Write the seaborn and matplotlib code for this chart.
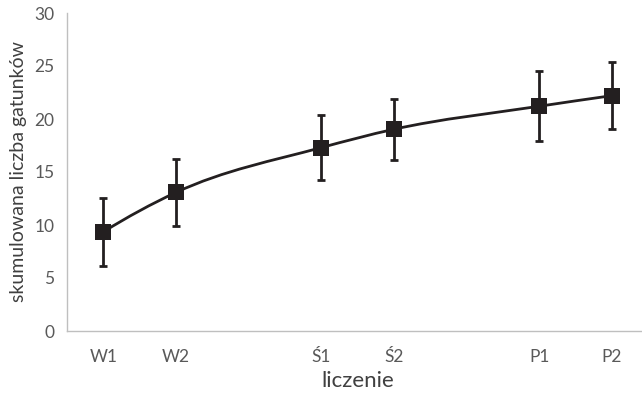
import numpy as np
import seaborn as sns
import matplotlib.pyplot as plt
import pandas as pd
from matplotlib.path import Path
from matplotlib.patches import PathPatch

# dane z wykresu
labels = ['W1', 'W2', '', 'Ś1', 'Ś2', '', 'P1', 'P2']
pos = [0, 1, 3, 4, 6, 7]
means = [9.35, 13.07, 17.3, 19.03, 21.2, 22.2]
errs = [3.2, 3.2, 3.05, 2.9, 3.3, 3.15]

sns.set_style("white")
plt.rcParams['font.family'] = ['Lato', 'DejaVu Sans']

ink = '#231f20'
grey = '#595959'
axis_col = '#bfbfbf'

df = pd.DataFrame({'x': pos, 'y': means, 'err': errs})

fig = plt.figure(figsize=(6.42, 3.93), dpi=100)
ax = fig.add_axes([67 / 642, 1 - 331 / 393, 581 / 642, 318 / 393])

# wygladzona linia przez punkty (odcinki Hermite'a jako krzywe Beziera)
x = df['x'].to_numpy(dtype=float)
y = df['y'].to_numpy(dtype=float)
n = len(x)
hs = np.diff(x)
ds = np.diff(y) / hs
m = np.empty(n)
for i in range(1, n - 1):
    m[i] = (hs[i] * ds[i - 1] + hs[i - 1] * ds[i]) / (hs[i - 1] + hs[i])
m[0] = 2 * ds[0] - m[1]
m[-1] = 2 * ds[-1] - m[-2]
verts = [(x[0], y[0])]
codes = [Path.MOVETO]
for i in range(n - 1):
    h = hs[i] / 3
    verts += [(x[i] + h, y[i] + m[i] * h),
              (x[i + 1] - h, y[i + 1] - m[i + 1] * h),
              (x[i + 1], y[i + 1])]
    codes += [Path.CURVE4] * 3
ax.add_patch(PathPatch(Path(verts, codes), fill=False, lw=2, ec=ink, zorder=2))

ax.errorbar(df['x'], df['y'], yerr=df['err'], fmt='none', ecolor=ink,
            elinewidth=2, capsize=3, capthick=2, zorder=3)
sns.scatterplot(data=df, x='x', y='y', marker='s', s=135, color=ink,
                edgecolor=ink, linewidth=0, ax=ax, zorder=4)

ax.set_xlim(-0.5, 7.5)
ax.set_ylim(0, 30)
ax.set_yticks(range(0, 31, 5))
ax.set_xticks(np.arange(-0.5, 8, 1))
ax.set_xticklabels([])
ax.set_xticks(range(len(labels)), minor=True)
ax.set_xticklabels(labels, minor=True)
ax.tick_params(axis='x', which='minor', length=0, pad=13, labelsize=12.5, labelcolor=grey)
ax.tick_params(axis='x', which='major', length=5, width=1, color=axis_col, direction='out')
ax.tick_params(axis='y', length=5, width=1, color=axis_col, direction='out',
               labelsize=12.5, labelcolor=grey, pad=4)

for s in ['top', 'right']:
    ax.spines[s].set_visible(False)
for s in ['left', 'bottom']:
    ax.spines[s].set_color(axis_col)
    ax.spines[s].set_linewidth(1)

ax.set_xlabel('liczenie', fontsize=16, color='#404040', labelpad=4)
ax.set_ylabel('skumulowana liczba gatunków', fontsize=14, color='#404040', labelpad=5)

fig.savefig('out.png', dpi=100)
